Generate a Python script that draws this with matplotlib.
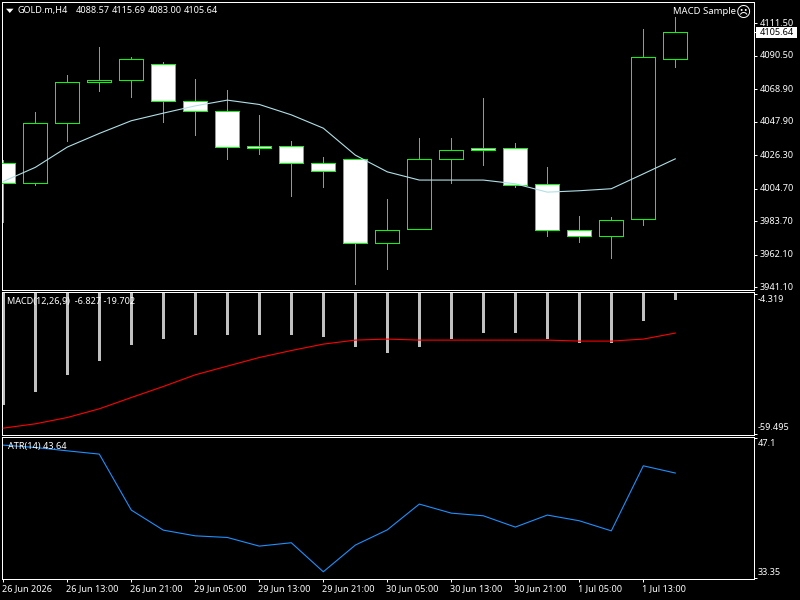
import matplotlib
matplotlib.use("Agg")
import matplotlib.pyplot as plt
from matplotlib.patches import Polygon, Rectangle
from matplotlib.transforms import blended_transform_factory
import numpy as np

# H4 bars of GOLD.m
opens = [4021.2, 4008.3, 4047.1, 4073.5, 4074.8, 4085.2, 4061.3, 4054.8, 4032.0, 4032.2, 4021.2,
         4023.8, 3969.6, 3978.6, 4024.2, 4030.9, 4030.7, 4007.7, 3978.0, 3973.9, 3985.1, 4088.57]
highs = [4023.4, 4054.4, 4078.3, 4096.3, 4089.9, 4086.6, 4075.7, 4068.6, 4052.4, 4035.6, 4025.3,
         4023.8, 3998.2, 4037.6, 4037.6, 4063.4, 4034.4, 4018.9, 3987.2, 3986.6, 4108.0, 4115.69]
lows = [3983.3, 4006.8, 4035.8, 4067.5, 4064.2, 4048.1, 4039.1, 4024.2, 4027.4, 4000.3, 4005.5,
        3943.5, 3952.6, 3978.6, 4008.7, 4020.3, 4006.1, 3973.9, 3970.0, 3960.3, 3981.6, 4083.00]
closes = [4008.3, 4047.1, 4073.5, 4074.8, 4088.4, 4061.3, 4054.8, 4031.6, 4031.0, 4021.2, 4016.1,
          3969.6, 3978.0, 4023.8, 4029.6, 4029.7, 4007.0, 3978.0, 3974.1, 3984.5, 4089.7, 4105.64]
moving_avg = [4009.4, 4018.5, 4031.6, 4040.4, 4048.6, 4053.5, 4058.2, 4061.9, 4059.1, 4052.4, 4043.8,
              4026.4, 4015.6, 4010.3, 4010.3, 4010.3, 4007.9, 4002.5, 4003.4, 4004.7, 4014.3, 4024.0]

macd_main = [-48.32, -43.18, -36.47, -30.94, -24.62, -21.86, -20.28, -20.28, -20.28, -20.67, -21.46,
             -25.41, -27.39, -25.02, -22.25, -19.88, -19.88, -21.86, -23.44, -23.83, -15.14, -6.827]
macd_signal = [-57.25, -55.55, -53.06, -49.62, -45.16, -40.81, -36.19, -32.76, -29.36, -26.60, -24.07,
               -22.49, -22.09, -22.49, -22.49, -22.49, -22.49, -22.49, -22.88, -22.88, -22.09, -19.702]
atr = [46.38, 46.15, 45.82, 45.50, 40.00, 38.03, 37.47, 37.31, 36.46, 36.79, 33.94,
       36.56, 38.06, 40.59, 39.70, 39.44, 38.33, 39.51, 38.95, 37.96, 44.35, 43.64]

price_ticks = [4111.50, 4090.50, 4068.90, 4047.90, 4026.30, 4004.70, 3983.70, 3962.10, 3941.10]
macd_ticks = [-4.319, -59.495]
atr_ticks = [47.1, 33.35]
time_labels = ["26 Jun 2026", "26 Jun 13:00", "26 Jun 21:00", "29 Jun 05:00", "29 Jun 13:00", "29 Jun 21:00",
               "30 Jun 05:00", "30 Jun 13:00", "30 Jun 21:00", "1 Jul 05:00", "1 Jul 13:00"]

W, H = 800, 600
PX = 0.72  # one pixel in points at dpi 100
THIN = 0.8
FS = 6.55
WHITE = "#FFFFFF"
GREEN = "#00FF00"

plt.rcParams["font.family"] = "Noto Sans"
fig = plt.figure(figsize=(W / 100, H / 100), dpi=100, facecolor="black")


def panel(top, bottom, left=2.3, right=754.3):
    ax = fig.add_axes([left / W, 1 - bottom / H, (right - left) / W, (bottom - top) / H], facecolor="black")
    for s in ax.spines.values():
        s.set_color(WHITE)
        s.set_linewidth(PX)
        s.set_antialiased(False)
    ax.set_xlim(-1 / 32, 751 / 32)
    ax.yaxis.tick_right()
    ax.tick_params(axis="y", colors=WHITE, length=3 * PX, width=PX, labelright=False)
    ax.tick_params(axis="x", bottom=False, labelbottom=False)
    return ax


ax_price = panel(2.3, 290.3)
ax_macd = panel(292.3, 435.3)
ax_atr = panel(437.3, 579.3)

ax_price.set_ylim(3939.13, 4125.06)
ax_macd.set_ylim(-60.09, -3.61)
ax_atr.set_ylim(33.20, 47.15)

xs = np.arange(len(opens))

# candles: wicks under bodies, rising bars hollow, falling bars white
ax_price.vlines(xs, lows, highs, color=GREEN, lw=PX, antialiased=False, zorder=2)
body_bottom = np.minimum(opens, closes)
body_height = np.abs(np.subtract(closes, opens))
fills = [WHITE if c < o else "black" for o, c in zip(opens, closes)]
ax_price.bar(xs, body_height, bottom=body_bottom, width=24 / 32, color=fills, edgecolor=GREEN,
             linewidth=PX, antialiased=False, zorder=3)
ax_price.plot(xs, moving_avg, color="#B0E0E6", lw=THIN, zorder=4)

# MACD histogram hangs from zero, which sits above the visible range
ax_macd.bar(xs, macd_main, width=3 / 32, color="#C0C0C0", linewidth=0, antialiased=False, zorder=2)
ax_macd.plot(xs, macd_signal, color="#FF0000", lw=THIN, zorder=3)

ax_atr.plot(xs, atr, color="#1E90FF", lw=THIN, zorder=2)

# right-hand scales
ax_price.set_yticks(price_ticks + [closes[-1]])
ax_macd.set_yticks(macd_ticks)
ax_atr.set_yticks(atr_ticks)


def scale_label(ax, value, text, dx=5.7, dy=0.0):
    ax.annotate(text, xy=(1, value), xycoords=("axes fraction", "data"),
                xytext=(dx * PX, dy * PX), textcoords="offset points",
                ha="left", va="center", color=WHITE, fontsize=FS, annotation_clip=False)


for v in price_ticks:
    scale_label(ax_price, v, f"{v:.2f}")
scale_label(ax_macd, macd_ticks[0], f"{macd_ticks[0]:.3f}", dx=3.7, dy=-5)
scale_label(ax_macd, macd_ticks[1], f"{macd_ticks[1]:.3f}", dx=3.7, dy=6)
scale_label(ax_atr, atr_ticks[0], f"{atr_ticks[0]:g}", dx=3.7, dy=-6)
scale_label(ax_atr, atr_ticks[1], f"{atr_ticks[1]:g}", dx=3.7, dy=5)

# current price flag: a white box centred on the last close
flag_tf = blended_transform_factory(ax_price.transAxes, ax_price.transData)
ax_price.add_patch(Rectangle((1.0022, closes[-1] - 3.4), 0.0545, 6.8, transform=flag_tf, fc=WHITE, ec="none",
                             clip_on=False, antialiased=False, zorder=9))
ax_price.annotate(f"{closes[-1]:.2f}", xy=(1, closes[-1]), xycoords=("axes fraction", "data"),
                  xytext=(5.7 * PX, 0), textcoords="offset points", ha="left", va="center",
                  color="black", fontsize=FS, annotation_clip=False, zorder=10)

# time axis: labels start at their tick
tick_idx = xs[::2]
ax_atr.set_xticks(tick_idx)
ax_atr.tick_params(axis="x", bottom=True, labelbottom=False, colors=WHITE, length=3 * PX, width=PX)
for i, lab in zip(tick_idx, time_labels):
    ax_atr.annotate(lab, xy=(i, 0), xycoords=("data", "axes fraction"),
                    xytext=(-1.3 * PX, -9 * PX), textcoords="offset points",
                    ha="left", va="center", color=WHITE, fontsize=FS, annotation_clip=False)


def fig_text(x, y, s, **kw):
    kw.setdefault("color", WHITE)
    kw.setdefault("fontsize", FS)
    kw.setdefault("va", "center")
    return fig.text(x / W, 1 - y / H, s, zorder=20, **kw)


# symbol and OHLC readout, each quote in its own column
fig_text(18, 10.5, "GOLD.m,H4")
for x, q in zip([76, 112, 148, 184], [opens[-1], highs[-1], lows[-1], closes[-1]]):
    fig_text(x, 10.5, f"{q:.2f}")
fig_text(736, 11.5, "MACD Sample", ha="right", fontsize=6.85)
fig_text(743.5, 12, "\u2639", ha="center", family="DejaVu Sans", fontsize=10.5)
fig_text(7.3, 301.5, f"MACD(12,26,9)  {macd_main[-1]:.3f} {macd_signal[-1]:.3f}")
fig_text(8, 446.5, f"ATR(14) {atr[-1]:.2f}")

# chart-window menu arrow
fig.add_artist(Polygon([[6 / W, 1 - 8.7 / H], [13.5 / W, 1 - 8.7 / H], [9.8 / W, 1 - 13 / H]],
                       closed=True, transform=fig.transFigure, fc=WHITE, ec="none", zorder=20))

fig.savefig("out.png", dpi=100, facecolor="black")
